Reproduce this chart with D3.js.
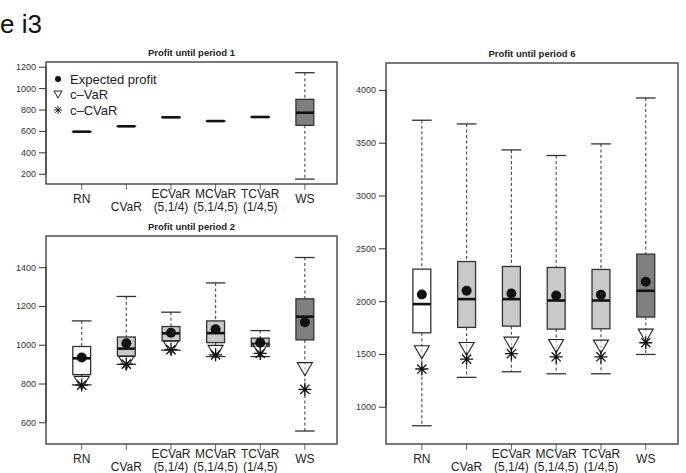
<!DOCTYPE html>
<html>
<head>
<meta charset="utf-8">
<script src="https://cdn.jsdelivr.net/npm/d3@7"></script>
<style>
  body { margin: 0; background: #fff; }
  svg { display: block; font-family: "Liberation Sans", Arial, sans-serif; }
</style>
</head>
<body>
<svg id="chart" width="686" height="473"></svg>
<script>
// categories and their two label lines
const categories = ["RN", "CVaR", "ECVaR", "MCVaR", "TCVaR", "WS"];
const labelLine1 = ["RN", "", "ECVaR", "MCVaR", "TCVaR", "WS"];
const labelLine2 = ["", "CVaR", "(5,1/4)", "(5,1/4,5)", "(1/4,5)", ""];
const boxFills = ["#ffffff", "#c9c9c9", "#c9c9c9", "#c9c9c9", "#c9c9c9", "#7f7f7f"];

// period 1: [lower whisker, q1, median, q3, upper whisker]
const p1Stats = [
  [593, 593, 593, 593, 593],
  [643, 643, 643, 643, 643],
  [727, 727, 727, 727, 727],
  [692, 692, 692, 692, 692],
  [730, 730, 730, 730, 730],
  [150, 652, 770, 895, 1144]
];
const p1Ticks = [200, 400, 600, 800, 1000, 1200];

// period 2
const p2Stats = [
  [793, 846, 930, 991, 1123],
  [899, 942, 980, 1040, 1249],
  [972, 1020, 1059, 1094, 1168],
  [939, 1011, 1060, 1123, 1319],
  [939, 991, 1004, 1034, 1073],
  [555, 1025, 1145, 1237, 1450]
];
const p2Mean = [934, 1008, 1062, 1080, 1010, 1116];
const p2VaR = [803, 906, 985, 963, 972, 874];
const p2CVaR = [792, 900, 975, 948, 955, 770];
const p2Ticks = [600, 800, 1000, 1200, 1400];

// period 6
const p6Stats = [
  [820, 1700, 1972, 2303, 3713],
  [1278, 1751, 2019, 2375, 3678],
  [1331, 1763, 2019, 2328, 3432],
  [1312, 1735, 2006, 2319, 3379],
  [1312, 1738, 2006, 2300, 3489],
  [1495, 1849, 2098, 2445, 3924]
];
const p6Mean = [2063, 2098, 2073, 2054, 2060, 2183];
const p6VaR = [1515, 1547, 1597, 1575, 1569, 1673];
const p6CVaR = [1357, 1451, 1502, 1473, 1473, 1606];
const p6Ticks = [1000, 1500, 2000, 2500, 3000, 3500, 4000];

const svg = d3.select("#chart");

svg.append("text")
  .attr("x", 0).attr("y", 33)
  .attr("font-size", 26).attr("fill", "#111")
  .text("e i3");

function trianglePath(s) {
  const h = s * 0.87;
  return `M${-s / 2},${-h / 2}L${s / 2},${-h / 2}L0,${h / 2}Z`;
}
function starPath(s) {
  const r = s / 2, d = r * 0.7071;
  return `M${-r},0L${r},0M0,${-r}L0,${r}M${-d},${-d}L${d},${d}M${-d},${d}L${d},${-d}`;
}

function panel(opt) {
  const { x0, x1, y0, y1, domain, ticks, stats, mean, vaR, cvar, title } = opt;
  const g = svg.append("g");
  const x = d3.scaleLinear().domain([0.2, 6.72]).range([x0, x1]);
  const y = d3.scaleLinear().domain(domain).range([y1, y0]);
  const bw = x(0.4) - x(0);
  const cw = x(0.22) - x(0);

  g.append("text")
    .attr("x", (x0 + x1) / 2).attr("y", y0 - 6)
    .attr("text-anchor", "middle").attr("font-size", 9.5)
    .attr("font-weight", "bold").attr("fill", "#222")
    .text(title);

  // y axis
  const ya = g.append("g").attr("transform", `translate(${x0},0)`)
    .call(d3.axisLeft(y).tickValues(ticks).tickSize(7).tickPadding(3).tickFormat(d3.format("d")));
  ya.select(".domain").attr("stroke", "#333").attr("d", `M0,${y(ticks[0])}V${y(ticks[ticks.length - 1])}`);
  ya.selectAll(".tick line").attr("stroke", "#333");
  ya.selectAll(".tick text").attr("font-size", 9).attr("fill", "#333")
    .attr("font-family", "Liberation Sans, Arial, sans-serif");

  // x ticks and labels
  const xt = g.selectAll(".xt").data(categories).join("g")
    .attr("transform", (d, i) => `translate(${x(i + 1)},${y1})`);
  xt.append("line").attr("y1", 0).attr("y2", 6).attr("stroke", "#666");
  xt.each(function (d, i) {
    const s = d3.select(this);
    const two = labelLine1[i] && labelLine2[i];
    if (labelLine1[i]) s.append("text").attr("y", two ? 14 : 19).text(labelLine1[i]);
    if (labelLine2[i]) s.append("text").attr("y", 26.5).text(labelLine2[i]);
  });
  xt.selectAll("text").attr("text-anchor", "middle").attr("font-size", 12).attr("fill", "#222");

  const clip = "clip" + title.replace(/\W/g, "");
  g.append("clipPath").attr("id", clip).append("rect")
    .attr("x", x0).attr("y", y0).attr("width", x1 - x0).attr("height", y1 - y0);
  const body = g.append("g").attr("clip-path", `url(#${clip})`);

  const bx = body.selectAll(".box").data(stats).join("g")
    .attr("transform", (d, i) => `translate(${x(i + 1)},0)`);
  // whiskers
  bx.append("line").attr("y1", d => y(d[4])).attr("y2", d => y(d[3]))
    .attr("stroke", "#555").attr("stroke-width", 1.2).attr("stroke-dasharray", "3,2.5");
  bx.append("line").attr("y1", d => y(d[1])).attr("y2", d => y(d[0]))
    .attr("stroke", "#555").attr("stroke-width", 1.2).attr("stroke-dasharray", "3,2.5");
  bx.append("line").attr("x1", -cw).attr("x2", cw).attr("y1", d => y(d[4])).attr("y2", d => y(d[4]))
    .attr("stroke", "#333").attr("stroke-width", 1.3);
  bx.append("line").attr("x1", -cw).attr("x2", cw).attr("y1", d => y(d[0])).attr("y2", d => y(d[0]))
    .attr("stroke", "#333").attr("stroke-width", 1.3);
  // box
  bx.append("rect").attr("x", -bw / 2).attr("width", bw)
    .attr("y", d => y(d[3])).attr("height", d => y(d[1]) - y(d[3]))
    .attr("fill", (d, i) => boxFills[i]).attr("stroke", "#333").attr("stroke-width", 1.3);
  bx.append("line").attr("x1", -bw / 2).attr("x2", bw / 2)
    .attr("y1", d => y(d[2])).attr("y2", d => y(d[2]))
    .attr("stroke", "#111").attr("stroke-width", 2.6);

  if (mean) {
    body.selectAll(".tri").data(vaR).join("path")
      .attr("transform", (d, i) => `translate(${x(i + 1)},${y(d)})`)
      .attr("d", trianglePath(15)).attr("fill", "#fff").attr("fill-opacity", 0.6)
      .attr("stroke", "#222").attr("stroke-width", 1.1);
    body.selectAll(".star").data(cvar).join("path")
      .attr("transform", (d, i) => `translate(${x(i + 1)},${y(d)})`)
      .attr("d", starPath(13)).attr("stroke", "#111").attr("stroke-width", 1.3);
    body.selectAll(".dot").data(mean).join("circle")
      .attr("cx", (d, i) => x(i + 1)).attr("cy", d => y(d)).attr("r", 5)
      .attr("fill", "#111");
  }

  g.append("rect").attr("x", x0).attr("y", y0).attr("width", x1 - x0).attr("height", y1 - y0)
    .attr("fill", "none").attr("stroke", "#333").attr("stroke-width", 1.3);
  return g;
}

const g1 = panel({ x0: 46, x1: 337, y0: 62, y1: 184, domain: [104, 1244], ticks: p1Ticks,
  stats: p1Stats, title: "Profit until period 1" });
panel({ x0: 46, x1: 337, y0: 236, y1: 444, domain: [488, 1561], ticks: p2Ticks,
  stats: p2Stats, mean: p2Mean, vaR: p2VaR, cvar: p2CVaR, title: "Profit until period 2" });
panel({ x0: 386, x1: 678, y0: 63, y1: 444, domain: [647, 4255], ticks: p6Ticks,
  stats: p6Stats, mean: p6Mean, vaR: p6VaR, cvar: p6CVaR, title: "Profit until period 6" });

// legend in period 1 panel
const legendItems = ["Expected profit", "c\u2013VaR", "c\u2013CVaR"];
const lg = g1.append("g").attr("transform", "translate(58,79)");
const li = lg.selectAll("g").data(legendItems).join("g")
  .attr("transform", (d, i) => `translate(0,${i * 15.5})`);
li.append("text").attr("x", 12).attr("y", 4.5).attr("font-size", 13).attr("fill", "#222").text(d => d);
li.filter((d, i) => i === 0).append("circle").attr("r", 3).attr("fill", "#111");
li.filter((d, i) => i === 1).append("path").attr("d", trianglePath(8))
  .attr("fill", "none").attr("stroke", "#222").attr("stroke-width", 1);
li.filter((d, i) => i === 2).append("path").attr("d", starPath(8))
  .attr("stroke", "#222").attr("stroke-width", 1);
</script>
</body>
</html>
